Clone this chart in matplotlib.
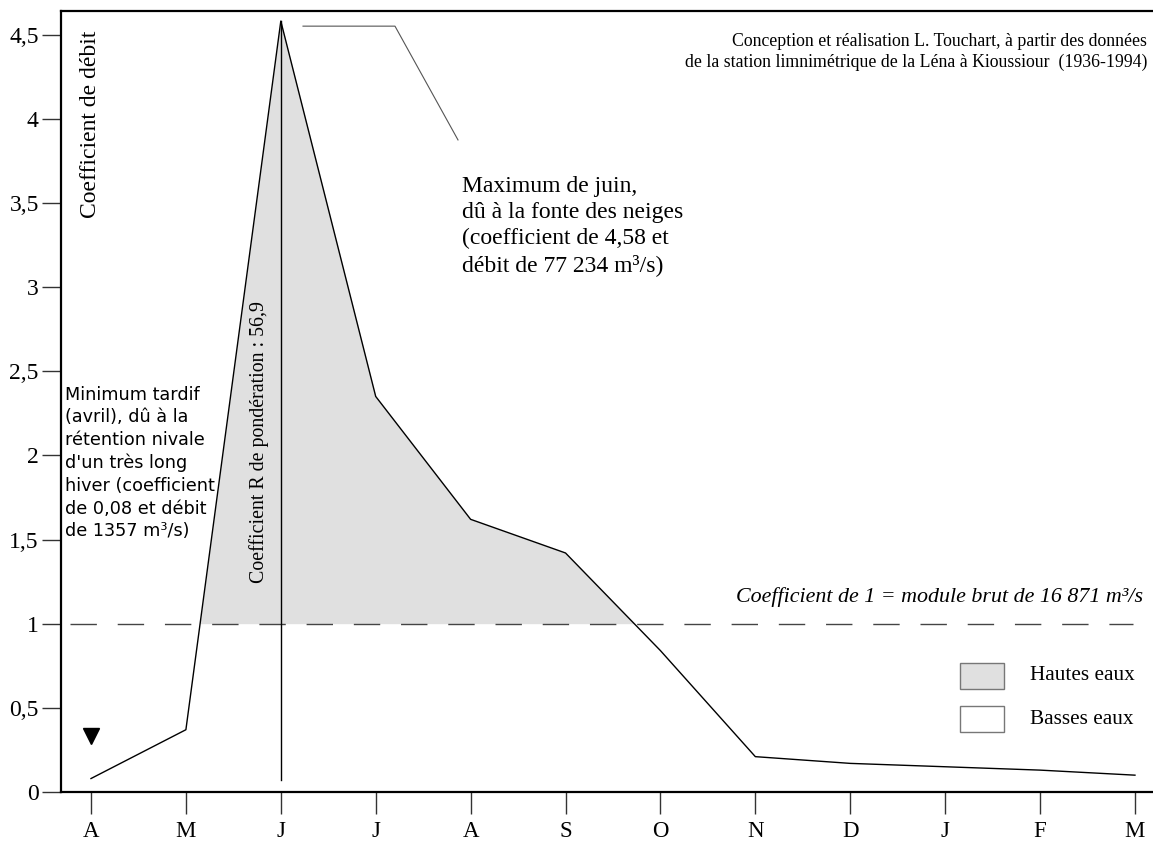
import matplotlib
matplotlib.use("Agg")
import matplotlib.pyplot as plt
import numpy as np
from matplotlib.patches import Rectangle

# ---- data ----
months = ["A", "M", "J", "J", "A", "S", "O", "N", "D", "J", "F", "M"]
coef = [0.08, 0.37, 4.58, 2.35, 1.62, 1.42, 0.84, 0.21, 0.17, 0.15, 0.13, 0.10]
yticks = [0, 0.5, 1, 1.5, 2, 2.5, 3, 3.5, 4, 4.5]
ytick_labels = ["0", "0,5", "1", "1,5", "2", "2,5", "3", "3,5", "4", "4,5"]
reference = 1.0
peak_index = 2

W, H = 1153, 842
fig = plt.figure(figsize=(W / 100, H / 100), dpi=100)
fig.patch.set_facecolor("white")

def fx(px):
    return px / W

def fy(py):
    return 1 - py / H

ax = fig.add_axes([fx(61), fy(792), fx(1153) - fx(61), fy(11) - fy(792)])
serif = "Liberation Serif"

x = np.arange(len(months))
y = np.array(coef)

x0, x1 = -0.316, 11.19
ax.set_xlim(x0, x1)
ax.set_ylim(0, 4.64)

# fill above reference
ax.fill_between(x, y, reference, where=y > reference, interpolate=True,
                color="#e0e0e0", linewidth=0, zorder=1)
# reference dashed line
ax.plot([-0.22, 10.98], [reference, reference], color="#444444", lw=1.0,
        dashes=(19, 15), zorder=2)
# curve
ax.plot(x, y, color="black", lw=1.0, zorder=3)
# vertical line at peak
ax.plot([peak_index, peak_index], [0.07, coef[peak_index]], color="black", lw=1.0, zorder=3)
# triangle marker
ax.plot([0], [0.33], marker="v", ms=11, color="black", zorder=4)

# annotation leader line
ax.plot([2.234, 3.203, 3.867], [4.55, 4.55, 3.874], color="#555555", lw=0.8, zorder=3)

# spines & ticks
for s in ["top", "left", "bottom"]:
    ax.spines[s].set_linewidth(1.6)
ax.spines["right"].set_visible(False)
ax.set_xticks(x)
ax.set_xticklabels(months, fontfamily=serif, fontsize=16.5)
ax.set_yticks(yticks)
ax.set_yticklabels(ytick_labels, fontfamily=serif, fontsize=17)
ax.tick_params(axis="x", length=16, width=1.0, pad=5, color="#333333")
ax.tick_params(axis="y", length=14, width=1.0, pad=2, color="#333333")

# texts
fig.text(fx(90), fy(124), "Coefficient de débit", rotation=90, ha="center", va="center",
         fontfamily=serif, fontsize=17)
fig.text(fx(259), fy(442), "Coefficient R de pondération : 56,9", rotation=90,
         ha="center", va="center", fontfamily=serif, fontsize=14.3)
fig.text(fx(1147), fy(52), "Conception et réalisation L. Touchart, à partir des données\n"
         "de la station limnimétrique de la Léna à Kioussiour  (1936-1994)",
         ha="right", va="center", fontfamily=serif, fontsize=12.8, linespacing=1.3,
         multialignment="right")
fig.text(fx(462), fy(226), "Maximum de juin,\ndû à la fonte des neiges\n"
         "(coefficient de 4,58 et\ndébit de 77 234 m³/s)",
         ha="left", va="center", fontfamily=serif, fontsize=17, linespacing=1.3)
fig.text(fx(65), fy(463), "Minimum tardif\n(avril), dû à la\nrétention nivale\n"
         "d'un très long\nhiver (coefficient\nde 0,08 et débit\nde 1357 m³/s)",
         ha="left", va="center", fontfamily="DejaVu Sans", fontsize=12.7, linespacing=1.33)
fig.text(fx(1143), fy(597), "Coefficient de 1 = module brut de 16 871 m³/s",
         ha="right", va="center", fontfamily=serif, fontsize=15.8, style="italic")

# legend
for (py0, py1, col, lab) in [(663, 689, "#e0e0e0", "Hautes eaux"),
                              (706, 732, "white", "Basses eaux")]:
    fig.patches.append(Rectangle((fx(960), fy(py1)), fx(1004) - fx(960), fy(py0) - fy(py1),
                                 transform=fig.transFigure, facecolor=col,
                                 edgecolor="#777777", lw=1.0))
    fig.text(fx(1030), fy((py0 + py1) / 2), lab, ha="left", va="center",
             fontfamily=serif, fontsize=15.3)

fig.savefig("out.png", dpi=100)
